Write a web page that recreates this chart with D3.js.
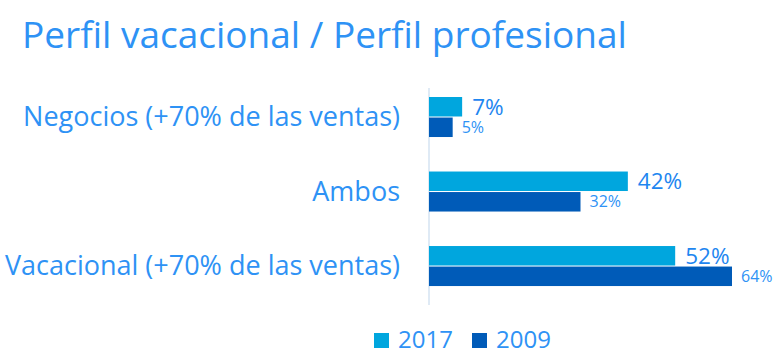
<!DOCTYPE html>
<html>
<head>
<meta charset="utf-8">
<style>
body { margin: 0; background: #fff; }
svg { font-family: "Open Sans", sans-serif; }
.title { fill: #2E92F5; font-size: 37px; }
.cat { fill: #2E92F5; font-size: 27px; }
.val17 { fill: #1E86F0; font-size: 22.5px; }
.val09 { fill: #2E92F5; font-size: 16px; }
.legend text { fill: #2E92F5; font-size: 24px; }
</style>
</head>
<body>
<svg width="778" height="362"></svg>
<script src="https://d3js.org/d3.v7.min.js"></script>
<script>

var categories = ['Negocios (+70% de las ventas)', 'Ambos', 'Vacacional (+70% de las ventas)'];
var series = ['2017', '2009'];
var values2017 = [7, 42, 52];
var values2009 = [5, 32, 64];

var colors = { '2017': '#00A6DE', '2009': '#005BB8' };

var svg = d3.select('svg');

var left = 429;

var x = d3.scaleLinear()
  .domain([0, 64])
  .range([left, left + 303]);

// step ~74.5px, bar pair ~40px tall
var y = d3.scaleBand()
  .domain(categories)
  .range([59.75, 323.3])
  .paddingInner(0.463)
  .paddingOuter(0.5);

var y1 = d3.scaleBand()
  .domain(series)
  .range([0, y.bandwidth()])
  .paddingInner(0.05);

svg.append('text')
  .attr('class', 'title')
  .attr('x', 22)
  .attr('y', 48)
  .text('Perfil vacacional / Perfil profesional');

// axis line
svg.append('line')
  .attr('x1', x(0)).attr('x2', x(0))
  .attr('y1', 88).attr('y2', 305)
  .attr('stroke', '#D5E3F2')
  .attr('stroke-width', 1.5);

var rows = categories.map(function(c, i) {
  return { cat: c, '2017': values2017[i], '2009': values2009[i] };
});

var g = svg.selectAll('.group')
  .data(rows)
  .enter().append('g')
  .attr('class', 'group')
  .attr('transform', function(d) { return 'translate(0,' + y(d.cat) + ')'; });

g.append('text')
  .attr('class', 'cat')
  .attr('x', 400)
  .attr('y', y.bandwidth() / 2)
  .attr('dy', '0.35em')
  .attr('text-anchor', 'end')
  .text(function(d) { return d.cat; });

series.forEach(function(s) {
  g.append('rect')
    .attr('x', x(0))
    .attr('y', y1(s))
    .attr('width', function(d) { return x(d[s]) - x(0); })
    .attr('height', y1.bandwidth())
    .attr('fill', colors[s]);

  g.append('text')
    .attr('class', s === '2017' ? 'val17' : 'val09')
    .attr('x', function(d) { return x(d[s]) + (s === '2017' ? 10 : 9); })
    .attr('y', y1(s) + y1.bandwidth() / 2)
    .attr('dy', '0.35em')
    .text(function(d) { return d[s] + '%'; });
});

// legend
var legend = svg.append('g').attr('class', 'legend');
var lx = [374, 472];
series.forEach(function(s, i) {
  legend.append('rect')
    .attr('x', lx[i]).attr('y', 333)
    .attr('width', 15).attr('height', 15)
    .attr('fill', colors[s]);
  legend.append('text')
    .attr('x', lx[i] + 24).attr('y', 340)
    .attr('dy', '0.35em')
    .text(s);
});

</script>
</body>
</html>
